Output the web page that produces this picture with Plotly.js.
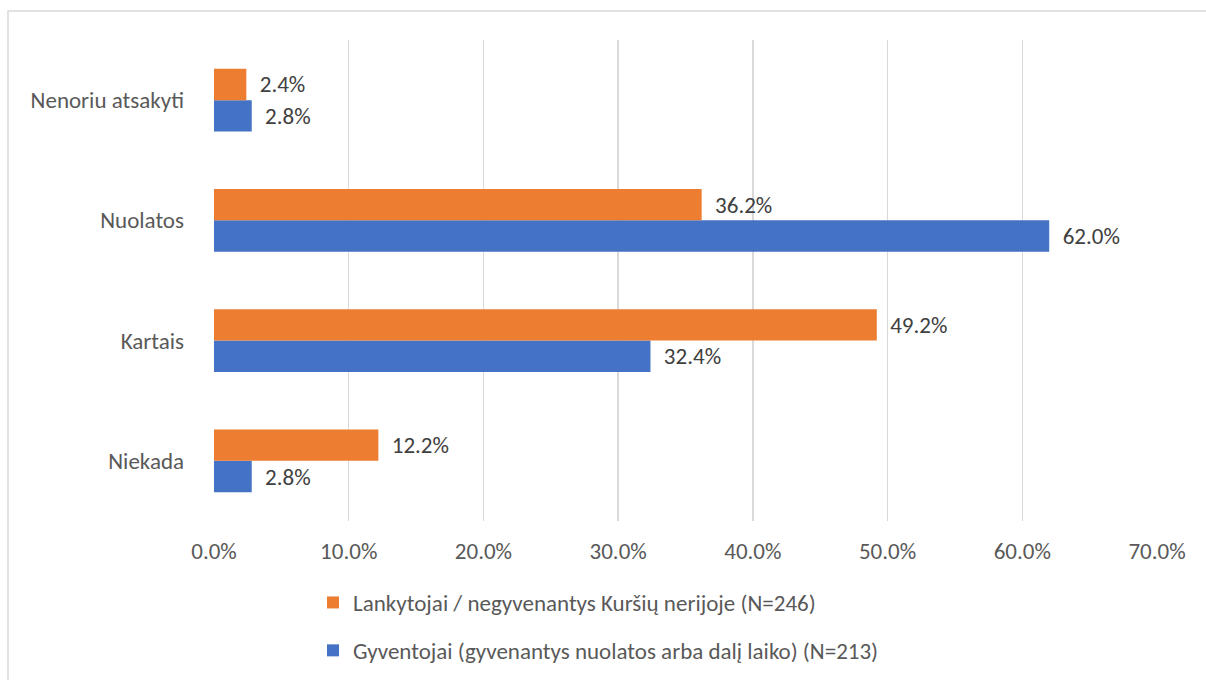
<!DOCTYPE html>
<html>
<head>
<meta charset="utf-8">
<script src="https://cdn.plot.ly/plotly-3.0.1.min.js"></script>
<style>html,body{margin:0;padding:0;background:#fff;}#chart{width:1206px;height:680px;}</style>
</head>
<body>
<div id="chart"></div>
<script>
const categories = ["Niekada", "Kartais", "Nuolatos", "Nenoriu atsakyti"];
const seriesNames = [
  "Gyventojai (gyvenantys nuolatos arba dalį laiko) (N=213)",
  "Lankytojai / negyvenantys Kuršių nerijoje (N=246)"
];
const residents = [2.8, 32.4, 62.0, 2.8];
const visitors = [12.2, 49.2, 36.2, 2.4];
const xTicks = [0, 10, 20, 30, 40, 50, 60, 70];

const W = 1206, H = 680;
const font = "Calibri, Carlito, Lato, 'Open Sans', sans-serif";
const fs = 23;

function barTrace(name, values, color, group, rank) {
  return {
    type: "bar",
    orientation: "h",
    name: name,
    y: categories,
    x: values,
    legendgroup: group,
    legendrank: rank,
    marker: {color: color},
    text: values.map(v => v.toFixed(1) + "%"),
    texttemplate: "  %{text}",
    textposition: "outside",
    cliponaxis: false,
    textfont: {family: font, size: fs, color: "#404040"},
    hoverinfo: "x+y+name"
  };
}

const data = [
  barTrace(seriesNames[0], residents, "#4472C4", "g1", 2),
  barTrace(seriesNames[1], visitors, "#ED7D31", "g2", 1)
];

const layout = {
  width: W,
  height: H,
  paper_bgcolor: "#ffffff",
  plot_bgcolor: "#ffffff",
  margin: {l: 0, r: 0, t: 0, b: 0},
  barmode: "group",
  bargap: 0.48,
  bargroupgap: 0,
  font: {family: font, size: fs, color: "#595959"},
  xaxis: {
    domain: [214 / W, 1157 / W],
    automargin: false,
    range: [0, 70],
    tickvals: xTicks,
    ticktext: xTicks.map(v => v.toFixed(1) + "%"),
    showgrid: true,
    gridcolor: "#D9D9D9",
    gridwidth: 1.5,
    zeroline: false,
    showline: false,
    ticks: "",
    ticklen: 0,
    ticklabelstandoff: 14,
    tickfont: {family: font, size: fs, color: "#595959"},
    fixedrange: true
  },
  yaxis: {
    domain: [(H - 521) / H, (H - 40) / H],
    automargin: false,
    type: "category",
    categoryorder: "array",
    categoryarray: categories,
    showgrid: false,
    zeroline: false,
    showline: false,
    ticks: "",
    ticklabelstandoff: 29,
    tickfont: {family: font, size: fs, color: "#595959"},
    fixedrange: true
  },
  showlegend: true,
  legend: {
    orientation: "v",
    traceorder: "grouped",
    tracegroupgap: 15,
    x: 313 / W,
    xanchor: "left",
    y: (H - 581) / H,
    yanchor: "top",
    font: {family: font, size: fs, color: "#595959"},
    itemwidth: 30,
    bgcolor: "rgba(0,0,0,0)"
  },
  shapes: [{
    type: "rect",
    xref: "paper",
    yref: "paper",
    x0: 8 / W,
    x1: 1.02,
    y0: -0.02,
    y1: (H - 11) / H,
    line: {color: "#D9D9D9", width: 1.5},
    fillcolor: "rgba(0,0,0,0)",
    layer: "below"
  }]
};

Plotly.newPlot("chart", data, layout, {displayModeBar: false, staticPlot: true});
</script>
</body>
</html>
